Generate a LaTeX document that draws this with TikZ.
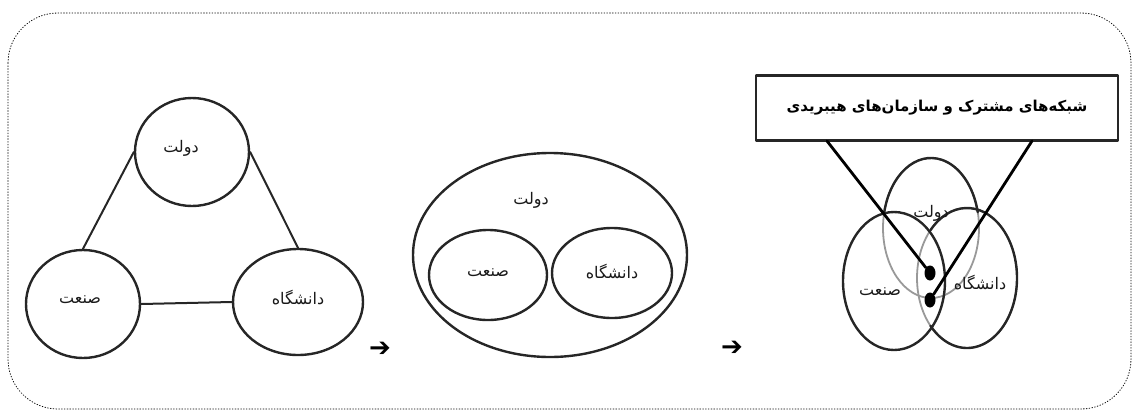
\documentclass[tikz,border=0pt]{standalone}
\usepackage{fontspec}
\usetikzlibrary{shapes.geometric}
\newfontfamily\arabicfont[Script=Arabic]{DejaVu Sans}
\newfontfamily\symfont{DejaVu Sans}
\TeXXeTstate=1
\newcommand{\fa}[1]{\arabicfont\beginR #1\endR}

\begin{document}
\begin{tikzpicture}[x=1pt,y=-1pt,line cap=round,line join=round,
	oval/.style={ellipse,draw=black!85,line width=2.4pt,inner sep=0pt},
	faintoval/.style={ellipse,draw=black!40,line width=1.8pt,inner sep=0pt},
	lbl/.style={font=\fontsize{16}{18}\selectfont,text=black!90,inner sep=0pt},
	link/.style={draw=black!85,line width=2pt},
	boldlink/.style={draw=black,line width=2.8pt},
	dot/.style={ellipse,fill=black,inner sep=0pt,minimum width=11pt,minimum height=15pt},
	turn/.style={font=\fontsize{26}{26}\symfont\bfseries,inner sep=0pt}]
		\useasboundingbox (0,0) rectangle (1132,410);
		\draw [dotted,line width=0.8pt,rounded corners=50pt] (8,13) rectangle (1131,409);
		\node[oval,minimum width=114pt,minimum height=108pt] (gov) at (192,152) {};
		\node[oval,minimum width=114pt,minimum height=108pt] (ind) at (83,304) {};
		\node[oval,minimum width=130pt,minimum height=106pt] (uni) at (298,302) {};
		\node[lbl] (govtext) at (181,148) {\fa{دولت}};
		\node[lbl] (indtext) at (80,300) {\fa{صنعت}};
		\node[lbl] (unitext) at (298,298) {\fa{دانشگاه}};
		\draw [link] (gov.west) -- (ind.north);
		\draw [link] (gov.east) -- (uni.north);
		\draw [link] (ind.east) -- (uni.west);
		\node[turn] (arrowa) at (380,349) {➔};
		\node[oval,minimum width=274pt,minimum height=204pt] (govbig) at (550,255) {};
		\node[oval,minimum width=118pt,minimum height=90pt] (indsmall) at (488,275) {};
		\node[oval,minimum width=120pt,minimum height=90pt] (unismall) at (612,273) {};
		\node[lbl] (govbigtext) at (531,200) {\fa{دولت}};
		\node[lbl] (indsmalltext) at (488,273) {\fa{صنعت}};
		\node[lbl] (unismalltext) at (612,272) {\fa{دانشگاه}};
		\node[turn] (arrowb) at (732,348) {➔};
		\node[draw=black!85,line width=2.4pt,minimum width=362pt,minimum height=65pt,font=\fontsize{15}{17}\selectfont\bfseries] (net) at (937,108) {\fa{شبکه‌های مشترک و سازمان‌های هیبریدی}};
		\node[faintoval,minimum width=96pt,minimum height=140pt] (govv) at (931,228) {};
		\node[faintoval,minimum width=100pt,minimum height=140pt] (univ) at (967,278) {};
		\node[oval,minimum width=102pt,minimum height=138pt] (indv) at (894,281) {};
		\draw [black!85,line width=2.4pt] ([shift={(193:48 and 70)}]govv.center) arc[start angle=193,end angle=347,x radius=48,y radius=70];
		\draw [black!85,line width=2.4pt] ([shift={(-137:50 and 70)}]univ.center) arc[start angle=-137,end angle=137,x radius=50,y radius=70];
		\node[lbl] (govvtext) at (931,213) {\fa{دولت}};
		\node[lbl] (indvtext) at (880,292) {\fa{صنعت}};
		\node[lbl] (univtext) at (980,283) {\fa{دانشگاه}};
		\coordinate (netl) at (827,141);
		\coordinate (netr) at (1032,141);
		\node[dot] (dota) at (930,273) {};
		\node[dot] (dotb) at (930,300) {};
		\draw [boldlink] (netl) -- (dota);
		\draw [boldlink] (netr) -- (dotb);
\end{tikzpicture}
\end{document}
